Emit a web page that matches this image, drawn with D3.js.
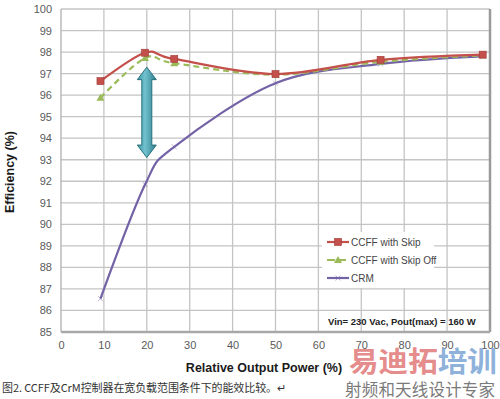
<!DOCTYPE html>
<html>
<head>
<meta charset="utf-8">
<script src="https://cdn.jsdelivr.net/npm/d3@7"></script>
<style>
  body { margin: 0; background: #fff; }
  svg { display: block; font-family: Arial, "Liberation Sans", sans-serif; }
</style>
</head>
<body>
<div id="app"></div>
<script>
const power = [9.2, 19.6, 26.4, 50, 74.5, 98.3];
const ccffSkip = [96.65, 97.97, 97.68, 96.98, 97.64, 97.88];
const ccffSkipOff = [95.88, 97.72, 97.48, 96.95, 97.55, 97.85];
const crm = [86.55, 91.85, 93.6, 96.55, 97.45, 97.8];

const seriesNames = ['CCFF with Skip', 'CCFF with Skip Off', 'CRM'];
const xTicks = [0, 10, 20, 30, 40, 50, 60, 70, 80, 90, 100];
const yTicks = [85, 86, 87, 88, 89, 90, 91, 92, 93, 94, 95, 96, 97, 98, 99, 100];
// the arrow marks the gap at 20 % load
const gapAt = 20;
const gapRange = [97.3, 93.1];

const width = 500, height = 399;
const x = d3.scaleLinear().domain([0, 100]).range([61, 490]);
const y = d3.scaleLinear().domain([85, 100]).range([332, 9]);

const svg = d3.select('#app').append('svg')
  .attr('width', width)
  .attr('height', height);

// grid
const grid = svg.append('g');
grid.selectAll('line.h').data(yTicks).enter().append('line')
  .attr('x1', x(0)).attr('x2', x(100))
  .attr('y1', d => y(d)).attr('y2', d => y(d))
  .attr('stroke', '#c4c4c4').attr('stroke-width', 1.3);
grid.selectAll('line.v').data(xTicks.slice(1, -1)).enter().append('line')
  .attr('y1', y(100)).attr('y2', y(85))
  .attr('x1', d => x(d)).attr('x2', d => x(d))
  .attr('stroke', '#c4c4c4').attr('stroke-width', 1.3);

// frame
svg.append('line').attr('x1', x(100)).attr('x2', x(100)).attr('y1', y(100)).attr('y2', y(85))
  .attr('stroke', '#9a9a9a').attr('stroke-width', 2.5);
svg.append('line').attr('x1', x(0)).attr('x2', x(100)).attr('y1', y(85)).attr('y2', y(85))
  .attr('stroke', '#a8a8a8').attr('stroke-width', 2.5);
svg.append('line').attr('x1', x(0)).attr('x2', x(0)).attr('y1', y(100)).attr('y2', y(85))
  .attr('stroke', '#b0b0b0').attr('stroke-width', 1.3);

// axes
const xAxis = svg.append('g')
  .attr('transform', `translate(0,${y(85) + 4})`)
  .call(d3.axisBottom(x).tickValues(xTicks).tickSize(0).tickPadding(5));
const yAxis = svg.append('g')
  .attr('transform', `translate(${x(0) - 9},0)`)
  .call(d3.axisLeft(y).tickValues(yTicks).tickSize(0).tickPadding(0));
[xAxis, yAxis].forEach(a => {
  a.select('.domain').remove();
  a.selectAll('text')
    .attr('fill', '#5a5a5a')
    .style('font-size', '11px')
    .style('font-family', 'Arial, "Liberation Sans", sans-serif');
});

// axis titles
svg.append('text')
  .attr('x', 264).attr('y', 372)
  .attr('text-anchor', 'middle')
  .style('font-size', '12.5px').style('font-weight', 'bold').attr('fill', '#1a1a1a')
  .text('Relative Output Power (%)');
svg.append('text')
  .attr('transform', 'translate(14,172) rotate(-90)')
  .attr('text-anchor', 'middle')
  .style('font-size', '12.5px').style('font-weight', 'bold').attr('fill', '#1a1a1a')
  .text('Efficiency (%)');

// series (Excel-style smoothing ~ uniform Catmull-Rom)
const series = [
  { name: seriesNames[0], values: ccffSkip, color: '#c4504b', dash: null, marker: 'square' },
  { name: seriesNames[1], values: ccffSkipOff, color: '#9bbb59', dash: '6,4', marker: 'triangle' },
  { name: seriesNames[2], values: crm, color: '#7462a6', dash: null, marker: 'cross' }
];

const line = d3.line()
  .x(d => x(d[0]))
  .y(d => y(d[1]))
  .curve(d3.curveCatmullRom.alpha(0));

const drawMarker = (g, type, color, cx, cy) => {
  if (type === 'square') {
    g.append('rect').attr('x', cx - 3.5).attr('y', cy - 3.5).attr('width', 7).attr('height', 7)
      .attr('fill', color).attr('stroke', '#a03a36').attr('stroke-width', 0.6);
  } else if (type === 'triangle') {
    g.append('path').attr('d', `M${cx},${cy - 4}L${cx + 4},${cy + 3}L${cx - 4},${cy + 3}Z`)
      .attr('fill', color);
  } else {
    g.append('path').attr('d', `M${cx - 2.5},${cy - 2.5}L${cx + 2.5},${cy + 2.5}M${cx - 2.5},${cy + 2.5}L${cx + 2.5},${cy - 2.5}`)
      .attr('stroke', color).attr('stroke-width', 0.8).attr('opacity', 0.6);
  }
};

// draw CRM first, then skip off, then skip on top
[series[2], series[1], series[0]].forEach(s => {
  const pts = power.map((p, i) => [p, s.values[i]]);
  const g = svg.append('g');
  g.append('path')
    .datum(pts)
    .attr('d', line)
    .attr('fill', 'none')
    .attr('stroke', s.color)
    .attr('stroke-width', 2.2)
    .attr('stroke-dasharray', s.dash);
  pts.forEach(p => drawMarker(g, s.marker, s.color, x(p[0]), y(p[1])));
});

// double-headed arrow
const ax = x(gapAt), aTop = y(gapRange[0]), aBot = y(gapRange[1]);
const headH = 12.5, headW = 9.5, shaftW = 5;
const defs = svg.append('defs');
const grad = defs.append('linearGradient').attr('id', 'arrowGrad')
  .attr('x1', '0').attr('x2', '1').attr('y1', '0').attr('y2', '0');
grad.append('stop').attr('offset', '0%').attr('stop-color', '#3e98a8');
grad.append('stop').attr('offset', '40%').attr('stop-color', '#72c1cf');
grad.append('stop').attr('offset', '100%').attr('stop-color', '#2d7f8f');
svg.append('path')
  .attr('d', [
    `M${ax},${aTop}`,
    `L${ax + headW},${aTop + headH}`,
    `L${ax + shaftW},${aTop + headH}`,
    `L${ax + shaftW},${aBot - headH}`,
    `L${ax + headW},${aBot - headH}`,
    `L${ax},${aBot}`,
    `L${ax - headW},${aBot - headH}`,
    `L${ax - shaftW},${aBot - headH}`,
    `L${ax - shaftW},${aTop + headH}`,
    `L${ax - headW},${aTop + headH}`,
    'Z'
  ].join(''))
  .attr('fill', 'url(#arrowGrad)')
  .attr('stroke', '#2a6f7c')
  .attr('stroke-width', 1);

// legend
const legend = svg.append('g');
legend.append('rect')
  .attr('x', 322).attr('y', 232).attr('width', 112).attr('height', 56)
  .attr('fill', '#fff');
series.forEach((s, i) => {
  const ly = 242 + i * 18;
  legend.append('line')
    .attr('x1', 327).attr('x2', 349).attr('y1', ly).attr('y2', ly)
    .attr('stroke', s.color).attr('stroke-width', 2.2)
    .attr('stroke-dasharray', s.dash ? '8,3' : null);
  drawMarker(legend, s.marker, s.color, 338, ly);
  legend.append('text')
    .attr('x', 351).attr('y', ly + 3.5)
    .style('font-size', '10px').attr('fill', '#444')
    .text(s.name);
});

svg.append('text')
  .attr('x', 328).attr('y', 325)
  .style('font-size', '9.5px').style('font-weight', 'bold').attr('fill', '#222')
  .text('Vin= 230 Vac, Pout(max) = 160 W');

// caption
svg.append('text')
  .attr('x', 2).attr('y', 392)
  .style('font-family', '"Noto Sans CJK SC", sans-serif')
  .style('font-size', '11px').attr('fill', '#333')
  .attr('textLength', 284)
  .text('图2. CCFF及CrM控制器在宽负载范围条件下的能效比较。↵');

// watermark
const wm = svg.append('text')
  .attr('x', 349).attr('y', 372)
  .style('font-family', '"Noto Sans CJK SC", sans-serif')
  .style('font-size', '28px').style('font-weight', 'bold')
  .attr('textLength', 148).attr('lengthAdjust', 'spacingAndGlyphs');
wm.append('tspan').attr('fill', '#e27c7c').attr('fill-opacity', 0.9).text('易迪拓');
wm.append('tspan').attr('fill', '#7fa7d6').attr('fill-opacity', 0.9).text('培训');
svg.append('text')
  .attr('x', 345).attr('y', 396)
  .style('font-family', '"Noto Sans CJK SC", sans-serif')
  .style('font-size', '16.5px').attr('fill', '#7a7a7a')
  .attr('textLength', 150)
  .text('射频和天线设计专家');
</script>
</body>
</html>
